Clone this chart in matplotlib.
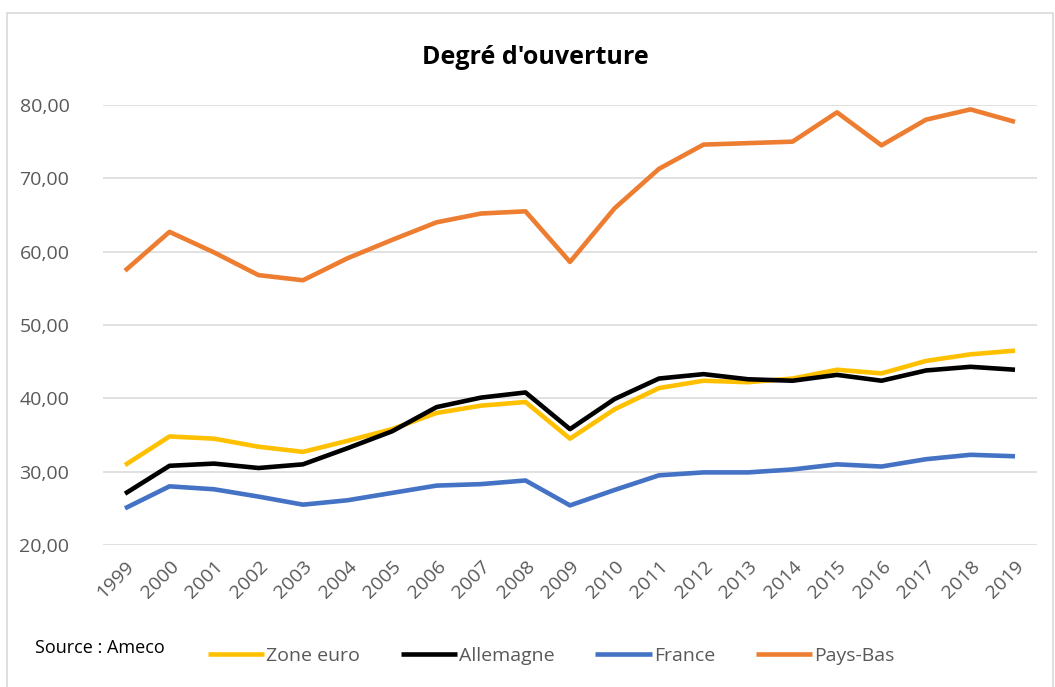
import matplotlib
matplotlib.use("Agg")
import matplotlib.pyplot as plt
from matplotlib.patches import Rectangle

plt.rcParams['font.family'] = ['Open Sans', 'DejaVu Sans']

# Data
years = [str(y) for y in range(1999, 2020)]
zone_euro = [30.9, 34.8, 34.5, 33.4, 32.7, 34.2, 35.8, 38.0, 39.0, 39.5, 34.5,
             38.5, 41.4, 42.4, 42.2, 42.7, 43.9, 43.4, 45.1, 46.0, 46.5]
allemagne = [27.0, 30.8, 31.1, 30.5, 31.0, 33.2, 35.5, 38.8, 40.1, 40.8, 35.8,
             39.9, 42.7, 43.3, 42.6, 42.4, 43.2, 42.4, 43.8, 44.3, 43.9]
france = [25.0, 28.0, 27.6, 26.6, 25.5, 26.1, 27.1, 28.1, 28.3, 28.8, 25.4,
          27.5, 29.5, 29.9, 29.9, 30.3, 31.0, 30.7, 31.7, 32.3, 32.1]
pays_bas = [57.4, 62.7, 59.9, 56.8, 56.1, 59.1, 61.6, 64.0, 65.2, 65.5, 58.6,
            65.9, 71.3, 74.6, 74.8, 75.0, 79.0, 74.5, 78.0, 79.4, 77.7]

series = [('Zone euro', zone_euro, '#FFC000'),
          ('Allemagne', allemagne, '#000000'),
          ('France', france, '#4472C4'),
          ('Pays-Bas', pays_bas, '#ED7D31')]

W, H = 1055, 687
fig = plt.figure(figsize=(W / 100, H / 100), dpi=100)
ax = fig.add_axes([102.75 / W, 1 - 545 / H, 934.5 / W, 440 / H])

x = list(range(len(years)))
for name, vals, col in series:
    ax.plot(x, vals, color=col, lw=3.3, label=name,
            solid_capstyle='butt', solid_joinstyle='round')

ax.set_xlim(-0.5, len(years) - 0.5)
ax.set_ylim(20, 80)
ax.set_yticks(range(20, 81, 10))
ax.set_yticklabels([f'{v},00' for v in range(20, 81, 10)])
ax.set_xticks(x)
ax.set_xticklabels(years, rotation=45, ha='right', va='top', rotation_mode='anchor')
ax.tick_params(axis='both', length=0, labelsize=14, labelcolor='#595959')
ax.tick_params(axis='y', pad=24)
ax.tick_params(axis='x', pad=9)
ax.grid(axis='y', color='#d9d9d9', lw=1.1)
ax.set_axisbelow(True)
for s in ax.spines.values():
    s.set_visible(False)

fig.text(535 / W, 1 - 57 / H, "Degré d'ouverture", ha='center', va='center',
         fontsize=18, fontweight='bold', color='black')
fig.text(35 / W, 1 - 648 / H, 'Source : Ameco', ha='left', va='center',
         fontsize=13, color='black')

leg = fig.legend(loc='center', bbox_to_anchor=(551 / W, 1 - 656 / H), ncol=4,
                 frameon=False, fontsize=14, handlelength=2.9, handletextpad=0.1,
                 columnspacing=2.1, labelcolor='#595959')
for h in leg.get_lines():
    h.set_linewidth(3.3)

# chart frame
fig.patches.append(Rectangle((7 / W, -0.01), 1046 / W, 1 - 13 / H + 0.01,
                             transform=fig.transFigure, fill=False,
                             edgecolor='#d9d9d9', lw=1.2))

fig.savefig('out.png', dpi=100)
